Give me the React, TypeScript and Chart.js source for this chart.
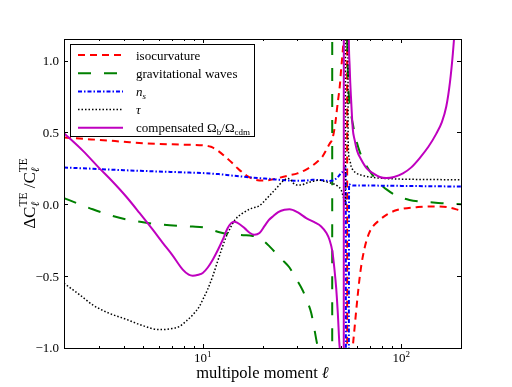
import React, { useEffect, useRef } from "react";
import { Chart, registerables } from "chart.js";

Chart.register(...registerables);

// ---------------- data ----------------
const isoEll = [2, 2.5, 3, 4, 5, 6, 8, 10, 11, 12, 13, 14, 15, 16.6, 18, 20, 22, 24.4, 27, 30, 33, 35.8, 38, 40, 42, 43.5, 45, 46.5, 47.9, 49, 49.8, 50.5, 51.1, 52, 53.3, 53.5, 54, 55, 56, 56.5, 57, 58.2, 59.3, 60.4, 61.6, 63, 64.1, 66.6, 70, 77.7, 85, 95, 102, 120, 140, 170, 200];
const isoVal = [0.465, 0.455, 0.448, 0.435, 0.425, 0.42, 0.415, 0.41, 0.4, 0.37, 0.33, 0.29, 0.25, 0.2, 0.175, 0.165, 0.17, 0.185, 0.2, 0.215, 0.24, 0.27, 0.3, 0.33, 0.38, 0.42, 0.455, 0.56, 0.71, 0.82, 0.94, 1.03, 1.125, 1.6, 8, -8, -2.5, -1.6, -1.25, -1.1, -1.0, -0.86, -0.74, -0.63, -0.52, -0.42, -0.36, -0.26, -0.18, -0.11, -0.07, -0.04, -0.03, -0.02, -0.015, -0.02, -0.045];

const gwEll = [2, 2.4, 2.79, 3.5, 4.11, 5, 6.05, 7.5, 8.9, 10, 11, 12.14, 14, 16, 17.86, 19.3, 20.5, 21.69, 23, 24, 25.3, 27.35, 29, 31.9, 33.5, 35.2, 36.3, 37.3, 38.5, 41, 43.5, 44.8, 45, 48, 51, 53, 54, 55.5, 57, 59, 62, 66.6, 72, 77.7, 85, 94.4, 110, 128.5, 160, 200];
const gwVal = [0.043, 0.0, -0.035, -0.08, -0.105, -0.125, -0.14, -0.15, -0.155, -0.16, -0.175, -0.195, -0.21, -0.215, -0.22, -0.235, -0.26, -0.293, -0.33, -0.36, -0.39, -0.44, -0.5, -0.6, -0.67, -0.757, -0.85, -0.94, -1.05, -1.5, -3, -20, 20, 8, 3, 1.4, 0.87, 0.66, 0.56, 0.46, 0.36, 0.27, 0.2, 0.147, 0.1, 0.06, 0.03, 0.018, 0.008, 0.0];

const nsEll = [2, 3, 4, 5, 6, 8, 10, 12, 14, 16, 19.3, 22, 24.4, 27, 30, 33, 35.8, 40, 43.5, 46, 48, 49.8, 51, 52.5, 53.2, 53.6, 54.6, 56, 60, 70, 100, 150, 200];
const nsVal = [0.256, 0.245, 0.237, 0.232, 0.228, 0.222, 0.217, 0.21, 0.2, 0.192, 0.182, 0.176, 0.17, 0.166, 0.163, 0.165, 0.17, 0.168, 0.162, 0.17, 0.19, 0.217, 0.23, 0.26, -20, -20, 0.14, 0.132, 0.13, 0.13, 0.128, 0.125, 0.124];

const tauEll = [2, 2.4, 2.79, 3.4, 4.11, 5, 6.05, 7, 7.63, 8.3, 8.9, 9.62, 10, 10.6, 11.23, 11.8, 12.4, 13, 13.63, 14.5, 15.91, 17.5, 19.31, 21, 23.44, 25.3, 26.8, 27.6, 28.42, 30, 31.5, 33.2, 36, 38.7, 41, 43.5, 46, 48, 49.8, 51, 52.3, 52.7, 53.3, 54, 54.9, 56, 57, 59.3, 64.1, 69.2, 77.7, 100, 150, 200];
const tauVal = [-0.55, -0.63, -0.7, -0.76, -0.8, -0.845, -0.872, -0.865, -0.85, -0.81, -0.77, -0.71, -0.664, -0.59, -0.5, -0.41, -0.32, -0.24, -0.177, -0.11, -0.061, -0.03, -0.01, 0.04, 0.11, 0.16, 0.18, 0.175, 0.15, 0.135, 0.135, 0.147, 0.16, 0.168, 0.16, 0.15, 0.14, 0.125, 0.1, 0.054, 0.0, 20, 20, 0.45, 0.31, 0.26, 0.24, 0.217, 0.2, 0.19, 0.182, 0.175, 0.172, 0.17];

const compEll = [2, 2.5, 3.02, 3.5, 4.11, 4.8, 5.6, 6.3, 7, 7.93, 8.5, 8.9, 9.5, 10, 10.6, 11.23, 11.9, 12.61, 13.3, 13.9, 14.4, 14.9, 16.23, 17.3, 18.22, 19.31, 20.5, 21.5, 22.54, 24, 25.8, 27.35, 30, 33.2, 36.5, 39.5, 42, 43.5, 45, 46.1, 47, 47.9, 49, 50, 51.2, 51.5, 52.8, 54.3, 55, 56, 57, 58.2, 60, 62.9, 67, 71.9, 78, 84, 92, 102, 112, 123.6, 137, 150, 160, 168.6, 176, 182, 190, 200];
const compVal = [0.495, 0.37, 0.25, 0.16, 0.054, -0.06, -0.177, -0.27, -0.35, -0.455, -0.49, -0.497, -0.49, -0.478, -0.44, -0.386, -0.32, -0.247, -0.17, -0.131, -0.122, -0.128, -0.166, -0.2, -0.212, -0.2, -0.15, -0.11, -0.085, -0.055, -0.038, -0.035, -0.055, -0.096, -0.125, -0.154, -0.2, -0.247, -0.33, -0.455, -0.58, -0.755, -1.0, -1.6, -20, 20, 5, 1.3, 0.95, 0.708, 0.523, 0.45, 0.37, 0.31, 0.25, 0.217, 0.19, 0.182, 0.19, 0.215, 0.255, 0.32, 0.4, 0.49, 0.57, 0.68, 0.85, 1.05, 1.4, 1.9];

const xMajorTicks = [10, 100];
const xMajorExponents = ["1", "2"];
const xMinorTicks = [2, 3, 4, 5, 6, 7, 8, 9, 20, 30, 40, 50, 60, 70, 80, 90, 200];
const yTicks = [-1, -0.5, 0, 0.5, 1];
const yTickLabels = ["\u22121.0", "\u22120.5", "0.0", "0.5", "1.0"];
const xRange = [2, 200];
const yRange = [-1, 1.15];

const FONT = '"Liberation Serif", "DejaVu Serif", serif';

type Txt = { t: string; size: number; dy?: number; italic?: boolean };
type Part = Txt | { sup: Txt; sub: Txt };

function fontOf(p: Txt) {
  return `${p.italic ? "italic " : ""}${p.size}px ${FONT}`;
}
function partWidth(ctx: CanvasRenderingContext2D, p: Part): number {
  if ("sup" in p) return Math.max(partWidth(ctx, p.sup), partWidth(ctx, p.sub));
  ctx.font = fontOf(p);
  return ctx.measureText(p.t).width;
}
function partsWidth(ctx: CanvasRenderingContext2D, parts: Part[]) {
  return parts.reduce((s, p) => s + partWidth(ctx, p), 0);
}
function drawParts(ctx: CanvasRenderingContext2D, parts: Part[], x: number, y: number) {
  let cx = x;
  for (const p of parts) {
    if ("sup" in p) {
      for (const q of [p.sup, p.sub]) {
        ctx.font = fontOf(q);
        ctx.fillText(q.t, cx, y + (q.dy || 0));
      }
      cx += partWidth(ctx, p);
    } else {
      ctx.font = fontOf(p);
      ctx.fillText(p.t, cx, y + (p.dy || 0));
      cx += ctx.measureText(p.t).width;
    }
  }
}

const legendEntries: { parts: Part[]; color: string; dash: number[]; width: number }[] = [
  { parts: [{ t: "isocurvature", size: 13 }], color: "#ff0000", dash: [7, 5], width: 2 },
  { parts: [{ t: "gravitational waves", size: 13 }], color: "#008000", dash: [13, 13], width: 2 },
  { parts: [{ t: "n", size: 13, italic: true }, { t: "s", size: 9, italic: true, dy: 3 }], color: "#0000ff", dash: [4, 2, 1.5, 2], width: 2 },
  { parts: [{ t: "\u03c4", size: 13, italic: true }], color: "#000000", dash: [1.5, 2], width: 1.5 },
  {
    parts: [
      { t: "compensated \u03a9", size: 13 },
      { t: "b", size: 9, dy: 3 },
      { t: "/\u03a9", size: 13 },
      { t: "cdm", size: 9, dy: 3 },
    ],
    color: "#bf00bf",
    dash: [],
    width: 2,
  },
];

const decorPlugin = {
  id: "decor",
  afterDatasetsDraw(chart: any) {
    const ctx: CanvasRenderingContext2D = chart.ctx;
    const { left, right, top, bottom } = chart.chartArea;
    const xs = chart.scales.x;
    const ys = chart.scales.y;
    ctx.save();
    ctx.strokeStyle = "#000";
    ctx.fillStyle = "#000";
    ctx.lineWidth = 1;
    ctx.setLineDash([]);
    // frame
    ctx.strokeRect(Math.round(left) + 0.5, Math.round(top) + 0.5, Math.round(right - left), Math.round(bottom - top));
    // x ticks (inward, bottom and top)
    const drawXT = (v: number, len: number) => {
      const px = Math.round(xs.getPixelForValue(v)) + 0.5;
      ctx.beginPath();
      ctx.moveTo(px, bottom);
      ctx.lineTo(px, bottom - len);
      ctx.moveTo(px, top);
      ctx.lineTo(px, top + len);
      ctx.stroke();
    };
    xMinorTicks.forEach((v) => drawXT(v, 2));
    xMajorTicks.forEach((v) => drawXT(v, 4));
    yTicks.forEach((v) => {
      const py = Math.round(ys.getPixelForValue(v)) + 0.5;
      ctx.beginPath();
      ctx.moveTo(left, py);
      ctx.lineTo(left + 4, py);
      ctx.moveTo(right, py);
      ctx.lineTo(right - 4, py);
      ctx.stroke();
    });
    // y tick labels
    ctx.textBaseline = "middle";
    ctx.textAlign = "right";
    ctx.font = `13px ${FONT}`;
    yTicks.forEach((v, i) => {
      ctx.fillText(yTickLabels[i], left - 5, ys.getPixelForValue(v) + 1);
    });
    // x tick labels 10^n
    ctx.textBaseline = "alphabetic";
    ctx.textAlign = "left";
    xMajorTicks.forEach((v, i) => {
      const parts: Part[] = [
        { t: "10", size: 13 },
        { t: xMajorExponents[i], size: 9, dy: -5 },
      ];
      const w = partsWidth(ctx, parts);
      drawParts(ctx, parts, xs.getPixelForValue(v) - w / 2, bottom + 14);
    });
    // x title
    const xt: Part[] = [
      { t: "multipole moment ", size: 16.5 },
      { t: "\u2113", size: 16.5, italic: true },
    ];
    const xw = partsWidth(ctx, xt);
    drawParts(ctx, xt, (left + right) / 2 - xw / 2, bottom + 30);
    // y title (rotated)
    const yt: Part[] = [
      { t: "\u0394C", size: 17 },
      { sup: { t: "TE", size: 11.5, dy: -8 }, sub: { t: "\u2113", size: 11.5, italic: true, dy: 4 } },
      { t: " /C", size: 17 },
      { sup: { t: "TE", size: 11.5, dy: -8 }, sub: { t: "\u2113", size: 11.5, italic: true, dy: 4 } },
    ];
    const yw = partsWidth(ctx, yt);
    ctx.save();
    ctx.translate(35, (top + bottom) / 2);
    ctx.rotate(-Math.PI / 2);
    drawParts(ctx, yt, -yw / 2, 0);
    ctx.restore();
    // legend
    const bx = 70, by = 44, bw = 184, bh = 92;
    ctx.fillStyle = "#fff";
    ctx.fillRect(bx, by, bw, bh);
    ctx.strokeStyle = "#000";
    ctx.lineWidth = 1;
    ctx.strokeRect(bx + 0.5, by + 0.5, bw, bh);
    legendEntries.forEach((e, i) => {
      const ry = 55 + i * 18.2;
      ctx.strokeStyle = e.color;
      ctx.lineWidth = e.width;
      ctx.setLineDash(e.dash);
      ctx.beginPath();
      ctx.moveTo(78, ry);
      ctx.lineTo(123, ry);
      ctx.stroke();
      ctx.setLineDash([]);
      ctx.fillStyle = "#000";
      ctx.textBaseline = "alphabetic";
      drawParts(ctx, e.parts, 136, ry + 4.5);
    });
    ctx.restore();
  },
};

function series(ell: number[], val: number[]) {
  return ell.map((x, i) => ({ x, y: val[i] }));
}

export default function App() {
  const ref = useRef<HTMLCanvasElement | null>(null);
  useEffect(() => {
    if (!ref.current) return;
    const mk = (label: string, ell: number[], val: number[], color: string, dash: number[], width: number, order: number) => ({
      label,
      data: series(ell, val),
      borderColor: color,
      backgroundColor: color,
      borderDash: dash,
      borderWidth: width,
      pointRadius: 0,
      fill: false,
      cubicInterpolationMode: "monotone" as const,
      clip: 0,
      order,
    });
    const chart = new Chart(ref.current, {
      type: "line",
      data: {
        datasets: [
          mk("isocurvature", isoEll, isoVal, "#ff0000", [7, 5], 2, 5),
          mk("gravitational waves", gwEll, gwVal, "#008000", [13, 13], 2, 4),
          mk("n_s", nsEll, nsVal, "#0000ff", [4, 2, 1.5, 2], 2, 3),
          mk("tau", tauEll, tauVal, "#000000", [1.5, 2], 1.5, 2),
          mk("compensated", compEll, compVal, "#bf00bf", [], 2, 1),
        ],
      },
      options: {
        responsive: false,
        animation: false,
        devicePixelRatio: 1,
        layout: { padding: { left: 64, right: 51, top: 39, bottom: 39 } },
        scales: {
          x: { type: "logarithmic", min: xRange[0], max: xRange[1], display: false },
          y: { type: "linear", min: yRange[0], max: yRange[1], display: false },
        },
        plugins: { legend: { display: false }, tooltip: { enabled: false } },
      },
      plugins: [decorPlugin],
    });
    return () => chart.destroy();
  }, []);
  return (
    <div style={{ position: "absolute", left: 0, top: 0, width: 512, height: 387, background: "#fff" }}>
      <canvas ref={ref} width={512} height={387} />
    </div>
  );
}
